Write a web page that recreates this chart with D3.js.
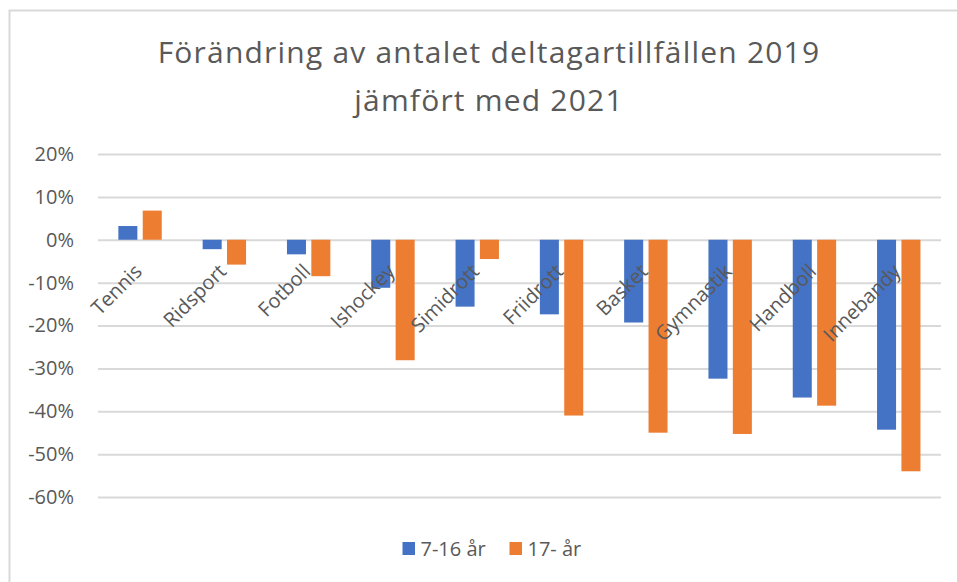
<!DOCTYPE html>
<html>
<head>
<meta charset="utf-8">
<script src="https://d3js.org/d3.v7.min.js"></script>
<style>
  * { margin: 0; padding: 0; box-sizing: border-box; }
  html, body { width: 957px; height: 582px; overflow: hidden; background: #fff; }
  body { font-family: 'Open Sans', 'Noto Sans', sans-serif; }
</style>
</head>
<body>
<div id="chart"></div>
<script>
const categories = ['Tennis', 'Ridsport', 'Fotboll', 'Ishockey', 'Simidrott', 'Friidrott', 'Basket', 'Gymnastik', 'Handboll', 'Innebandy'];
const seriesNames = ['7-16 år', '17- år'];
const youth = [0.032, -0.022, -0.034, -0.112, -0.156, -0.174, -0.193, -0.324, -0.368, -0.443];
const adults = [0.068, -0.058, -0.085, -0.281, -0.045, -0.410, -0.450, -0.453, -0.387, -0.540];
const yTicks = [0.2, 0.1, 0, -0.1, -0.2, -0.3, -0.4, -0.5, -0.6];
const titleLines = ['Förändring av antalet deltagartillfällen 2019', 'jämfört med 2021'];

const colors = ['#4472C4', '#ED7D31'];
const width = 957, height = 582;
const plot = { left: 98, right: 941, top: 154, bottom: 497 };

const svg = d3.select('#chart').append('svg')
  .attr('width', width).attr('height', height);

// chart frame (right and bottom edges are cut off in the original)
svg.append('rect')
  .attr('x', 9.5).attr('y', 10.5)
  .attr('width', 1000).attr('height', 1000)
  .attr('fill', 'none').attr('stroke', '#d9d9d9').attr('stroke-width', 2);

svg.append('g').selectAll('text').data(titleLines).join('text')
  .attr('x', 489).attr('y', (d, i) => 63 + i * 48)
  .attr('text-anchor', 'middle')
  .attr('fill', '#595959')
  .style('font-size', '30px')
  .style('letter-spacing', '1.2px')
  .text(d => d);

const y = d3.scaleLinear().domain([-0.6, 0.2]).range([plot.bottom, plot.top]);
const x0 = d3.scaleBand().domain(categories).range([plot.left, plot.right]);
const x1 = d3.scaleBand().domain(seriesNames).range([-21.8, 21.6]).paddingInner(0.22);

const locale = d3.formatLocale({ decimal: '.', thousands: ' ', grouping: [3], currency: ['', ''], minus: '-', percent: '%' });
const fmt = locale.format('.0%');

// gridlines + y labels
const yAxis = svg.append('g')
  .attr('transform', `translate(${plot.left},0)`)
  .call(d3.axisLeft(y).tickValues(yTicks).tickFormat(fmt)
    .tickSize(-(plot.right - plot.left)).tickPadding(24));
yAxis.select('.domain').remove();
yAxis.selectAll('.tick line').attr('stroke', '#d9d9d9').attr('stroke-width', 2);
yAxis.selectAll('.tick text')
  .attr('fill', '#595959')
  .style('font-family', "'Open Sans', sans-serif")
  .style('font-size', '20px');

const rows = categories.map((c, i) => ({ cat: c, values: [youth[i], adults[i]] }));

const groups = svg.append('g').selectAll('g').data(rows).join('g')
  .attr('transform', d => `translate(${x0(d.cat) + x0.bandwidth() / 2},0)`);

groups.selectAll('rect')
  .data(d => d.values.map((v, i) => ({ key: seriesNames[i], v, i })))
  .join('rect')
  .attr('x', d => x1(d.key))
  .attr('width', x1.bandwidth())
  .attr('y', d => y(Math.max(0, d.v)))
  .attr('height', d => Math.abs(y(d.v) - y(0)))
  .attr('fill', d => colors[d.i]);

// category labels, rotated, sitting just under the zero line
svg.append('g').selectAll('text').data(categories).join('text')
  .attr('transform', d => `translate(${x0(d) + x0.bandwidth() / 2 + 3},${y(0) + 33}) rotate(-45)`)
  .attr('text-anchor', 'end')
  .attr('fill', '#595959')
  .style('font-size', '20px')
  .text(d => d);

// legend
const legendX = [402.5, 509.5];
const legend = svg.append('g').selectAll('g').data(seriesNames).join('g')
  .attr('transform', (d, i) => `translate(${legendX[i]},542)`);
legend.append('rect').attr('width', 12.5).attr('height', 13).attr('fill', (d, i) => colors[i]);
legend.append('text')
  .attr('x', 18).attr('y', 14)
  .attr('fill', '#595959')
  .style('font-size', '20px')
  .text(d => d);
</script>
</body>
</html>
